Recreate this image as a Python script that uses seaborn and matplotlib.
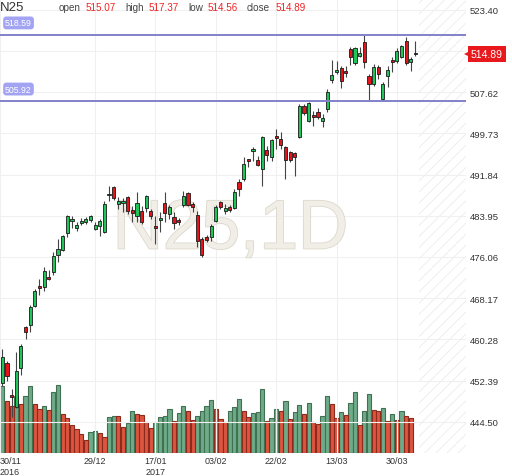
import matplotlib
matplotlib.use("Agg")
import matplotlib.pyplot as plt
import matplotlib.patheffects as pe
import numpy as np
import pandas as pd
import seaborn as sns

# Daily bars, one per weekday from 1 Dec 2016.
dates = pd.bdate_range("2016-12-01", periods=90)

opens = [451.94, 455.78, 449.65, 447.35, 454.82, 462.67, 463.06, 466.70, 470.53, 470.33,
         472.25, 473.21, 476.47, 477.42, 480.68, 482.95, 481.64, 482.65, 482.79, 483.17,
         481.45, 482.00, 480.87, 487.90, 489.49, 486.23, 486.43, 487.58, 485.09, 483.94,
         484.89, 485.47, 484.89, 482.02, 483.17, 486.43, 484.32, 483.75, 483.00, 486.04,
         488.34, 486.23, 484.13, 479.53, 479.91, 479.91, 483.00, 486.62, 484.90, 485.66,
         485.47, 490.45, 491.02, 494.66, 496.39, 494.66, 492.94, 496.58, 495.24, 499.26,
         498.69, 497.16, 496.20, 496.00, 499.07, 505.01, 502.14, 503.10, 503.86, 502.14,
         504.43, 509.99, 511.52, 512.29, 511.52, 515.93, 513.25, 514.59, 517.27, 510.76,
         509.22, 512.48, 506.35, 510.76, 513.82, 513.63, 514.40, 517.46, 513.44, 515.07]
highs = [458.46, 456.16, 450.80, 457.88, 459.41, 462.86, 466.89, 469.95, 471.87, 474.17,
         473.59, 477.04, 479.53, 480.30, 484.13, 483.94, 482.80, 483.55, 483.75, 484.13,
         482.80, 483.36, 486.81, 489.68, 489.60, 487.58, 487.38, 487.77, 485.85, 488.53,
         485.85, 487.96, 485.28, 483.94, 484.70, 488.53, 486.04, 484.70, 483.55, 488.72,
         488.53, 486.62, 484.89, 479.91, 480.30, 482.40, 486.04, 486.81, 486.20, 486.04,
         489.11, 491.02, 495.24, 494.86, 497.16, 495.43, 499.26, 497.35, 498.69, 500.60,
         500.03, 497.35, 496.39, 496.20, 505.39, 505.39, 505.78, 504.05, 504.63, 503.48,
         508.27, 513.82, 513.63, 512.67, 512.67, 516.31, 516.31, 516.31, 518.61, 511.14,
         513.06, 512.86, 509.61, 512.67, 514.40, 516.12, 516.70, 518.23, 514.40, 517.37]
lows = [451.37, 452.33, 445.43, 447.15, 453.48, 460.37, 461.71, 466.50, 468.80, 469.57,
        471.68, 472.63, 475.12, 477.23, 479.91, 481.64, 481.10, 482.20, 482.40, 482.80,
        481.26, 480.10, 480.68, 486.81, 487.00, 485.28, 484.70, 484.32, 482.79, 482.79,
        482.40, 484.70, 483.36, 478.57, 480.87, 482.79, 483.36, 481.45, 482.21, 485.66,
        485.85, 484.70, 478.00, 476.10, 478.96, 479.15, 482.79, 485.28, 484.30, 484.70,
        485.28, 487.77, 490.64, 493.32, 494.47, 493.51, 489.68, 494.47, 494.47, 496.77,
        496.77, 491.02, 494.28, 491.60, 498.88, 503.29, 501.94, 501.18, 502.52, 501.00,
        503.86, 509.42, 511.14, 508.46, 510.57, 512.86, 512.86, 514.40, 512.29, 505.97,
        508.84, 510.18, 505.97, 508.65, 511.52, 513.25, 514.20, 512.86, 511.70, 514.56]
closes = [456.92, 453.29, 449.26, 454.24, 459.03, 461.71, 466.50, 469.57, 470.14, 473.40,
          471.87, 476.27, 477.62, 480.10, 483.94, 483.05, 482.21, 482.80, 483.36, 483.94,
          482.21, 483.00, 486.23, 488.05, 487.38, 486.81, 486.81, 484.89, 484.51, 486.43,
          482.79, 487.77, 483.94, 481.64, 483.55, 484.51, 485.66, 482.60, 482.80, 487.77,
          486.04, 485.66, 479.15, 476.50, 479.34, 482.02, 485.66, 485.66, 485.40, 485.09,
          488.53, 489.11, 493.90, 494.47, 496.58, 493.70, 499.07, 495.62, 498.50, 498.88,
          497.54, 494.66, 494.66, 495.24, 505.01, 503.67, 505.58, 502.90, 502.90, 502.71,
          507.69, 510.95, 511.91, 509.80, 511.33, 514.40, 516.12, 515.16, 513.44, 509.22,
          512.48, 511.14, 509.22, 511.91, 513.44, 515.55, 516.50, 513.25, 514.00, 514.89]

# Volume (relative units); the current day has none yet.
volume = [67, 52, 47, 57, 49, 57, 67, 49, 44, 47, 43, 61, 68, 39, 35, 28, 24, 19, 13, 21,
          21.5, 20, 16, 36, 37, 36.5, 26, 30, 42, 39, 38, 31, 25, 31, 36, 37, 44, 32, 40, 47,
          42, 33, 37, 42, 47, 53, 44, 34, 31, 42, 46, 54, 42, 36, 40, 41, 64, 32, 35, 44,
          42, 52, 34, 41, 48, 39, 50, 31, 29, 37, 57, 49, 35, 41, 38, 50, 61, 28, 42, 59,
          43, 42, 45, 32, 39, 33, 42, 37, 35]

levels = [518.59, 505.92]
price_ticks = [444.50, 452.39, 460.28, 468.17, 476.06, 483.95, 491.84, 499.73, 507.62, 515.51, 523.40]
date_ticks = ["2016-12-29", "2017-01-17", "2017-02-03", "2017-02-22", "2017-03-13", "2017-03-30"]
date_labels = ["29/12", "17/01\n2017", "03/02", "22/02", "13/03", "30/03"]
first_label = "30/11\n2016"
header = [("open", opens[-1]), ("high", highs[-1]), ("low", lows[-1]), ("close", closes[-1])]

sns.set_theme(style="white")
plt.rcParams["font.family"] = ["Liberation Sans", "DejaVu Sans"]
plt.rcParams["hatch.linewidth"] = 0.6

fig = plt.figure(figsize=(5.12, 4.77), dpi=100)
ax = fig.add_axes([0, 23 / 477, 466 / 512, 454 / 477])
vax = ax.twinx()
ax.set_zorder(vax.get_zorder() + 1)
ax.patch.set_visible(False)

# Volume bars, coloured by change from the previous day.
vol = pd.DataFrame({"idx": np.arange(len(volume)), "volume": volume})
vol["dir"] = np.where(vol["volume"].diff().fillna(1) >= 0, "up", "down")
sns.barplot(data=vol, x="idx", y="volume", hue="dir", native_scale=True, dodge=False,
            palette={"up": "#6fab89", "down": "#dc553f"}, saturation=1, width=0.9,
            errorbar=None, legend=False, linewidth=0.8, ax=vax)
for patch in vax.patches:
    r, g, b, _ = patch.get_facecolor()
    patch.set_edgecolor("#3f7152" if g > r else "#8c2a1d")
vax.set_ylim(0, max(volume) / 0.15)
vax.yaxis.set_visible(False)
vax.set_xlabel("")

# Candles.
x = np.arange(len(dates))
o, h, l, c = map(np.array, (opens, highs, lows, closes))
body_col = np.where(c >= o, "#20c55a", "#e3151b")
ax.vlines(x, l, h, color="#444444", lw=0.8, zorder=4)
ax.bar(x, np.maximum(np.abs(c - o), 0.3), bottom=np.minimum(o, c), width=0.68,
       color=body_col, edgecolor="#1a1a1a", linewidth=0.6, zorder=5)

xmin, xmax = -0.5, len(dates) + 9.9
ax.set_xlim(xmin, xmax)
ax.set_ylim(438.5, 525.5)

# Empty future area.
ax.axvspan(len(dates) - 0.2, xmax, facecolor="white", edgecolor="#ebebeb",
           hatch="///", linewidth=0, zorder=0.5)

# Watermark.
ax.text(0.495, 0.49, "N25,1D", transform=ax.transAxes, ha="center", va="center",
        fontsize=50, color="#f1eee7", zorder=1,
        path_effects=[pe.withStroke(linewidth=1.2, foreground="#dcd8cc")])

# Horizontal levels with labels.
for lv in levels:
    ax.axhline(lv, color="#8181c9", lw=1.4, zorder=6)
    ax.annotate(f"{lv:.2f}", xy=(0.008, lv), xycoords=("axes fraction", "data"),
                xytext=(1, 5.5), textcoords="offset points", ha="left", va="bottom",
                color="white", fontsize=6.3, zorder=7,
                bbox=dict(boxstyle="round,pad=0.22,rounding_size=0.35", fc="#a3a3f3", ec="none"))

# Last price tag (box plus a small pointer).
tag_red = "#e8181d"
ax.annotate(f"{closes[-1]:.2f}", xy=(1.0, closes[-1]), xycoords=("axes fraction", "data"),
            xytext=(3.5, 0), textcoords="offset points", ha="left", va="center",
            color="white", fontsize=7.5, zorder=10, annotation_clip=False,
            bbox=dict(boxstyle="square,pad=0.3", fc=tag_red, ec="none"))
ax.plot([1.003], [closes[-1]], marker="<", ms=5, color=tag_red, mew=0,
        transform=ax.get_yaxis_transform(), clip_on=False, zorder=10)

# Axes, ticks, grid. The 515.51 label sits under the price tag.
ax.yaxis.tick_right()
ax.set_yticks(price_ticks)
ax.set_yticklabels(["" if abs(t - closes[-1]) < 2 else f"{t:.2f}" for t in price_ticks])
tick_pos = [xmin] + [dates.get_loc(pd.Timestamp(d)) for d in date_ticks]
ax.set_xticks(tick_pos)
ax.set_xticklabels([first_label] + date_labels)
ax.get_xticklabels()[0].set_ha("left")
ax.tick_params(axis="y", length=0, pad=3, labelsize=6.8, colors="#333333")
ax.tick_params(axis="x", length=0, pad=2.5, labelsize=6.5, colors="#333333")
ax.grid(True, color="#f0f0f0", lw=0.8)
for a in (ax, vax):
    for s in a.spines.values():
        s.set_visible(False)

# Header line.
fig.canvas.draw()
renderer = fig.canvas.get_renderer()
fig.text(0.0, 1 - 8 / 477, "N25", fontsize=9.5, color="#333333", va="center", ha="left")
xpos = [59, 125, 188, 247]
for (name, val), px in zip(header, xpos):
    t = fig.text(px / 512, 1 - 8 / 477, name, fontsize=7.1, color="#444444", va="center")
    bb = t.get_window_extent(renderer)
    fig.text((bb.x1 + 5) / 512, 1 - 8 / 477, f"{val:.2f}", fontsize=7.1,
             color="#ee2424", va="center")

fig.savefig("out.png", dpi=100)
